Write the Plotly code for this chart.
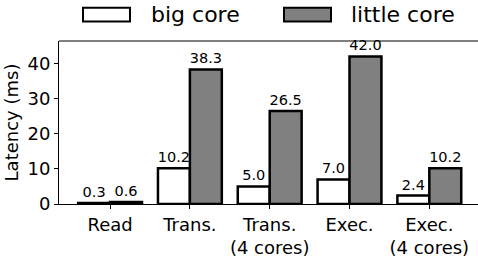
import plotly.graph_objects as go

categories = ["Read", "Trans.", "Trans.<br>(4 cores)", "Exec.", "Exec.<br>(4 cores)"]
series_names = ["big core", "little core"]
big_core = [0.3, 10.2, 5.0, 7.0, 2.4]
little_core = [0.6, 38.3, 26.5, 42.0, 10.2]
colors = ["#ffffff", "#808080"]
y_ticks = [0, 10, 20, 30, 40]

FONT = "DejaVu Sans"
W, H = 478, 258
L, R, T, B = 59, 0, 41, 50
PW, PH = W - L - R, H - T - B

def px_x(x):
    return (x - L) / PW

def px_y(y):
    return (H - B - y) / PH

fig = go.Figure()
for name, vals, col in zip(series_names, [big_core, little_core], colors):
    fig.add_trace(go.Bar(
        x=list(range(len(categories))), y=vals, name=name,
        marker=dict(color=col, line=dict(color="black", width=2.5)),
        texttemplate="%{y:.1f}", textposition="outside",
        textfont=dict(family=FONT, size=14.5, color="black"),
        constraintext="none", cliponaxis=False, showlegend=False,
        hoverinfo="skip",
    ))

shapes = [
    dict(type="line", xref="paper", yref="paper", x0=0, x1=1, y0=1, y1=1,
         line=dict(color="black", width=1)),
]
annotations = []
legend_boxes = [(83, 130, 149), (284, 331, 349)]
for (bx0, bx1, tx), name, col in zip(legend_boxes, series_names, colors):
    shapes.append(dict(type="rect", xref="paper", yref="paper",
                       x0=px_x(bx0), x1=px_x(bx1), y0=px_y(21), y1=px_y(7),
                       fillcolor=col, line=dict(color="black", width=2)))
    annotations.append(dict(xref="paper", yref="paper", x=px_x(tx), y=px_y(14),
                            xanchor="left", yanchor="middle", text=name, showarrow=False,
                            font=dict(family=FONT, size=22, color="black")))

fig.update_layout(
    width=W, height=H, margin=dict(l=L, r=R, t=T, b=B),
    paper_bgcolor="white", plot_bgcolor="white",
    barmode="group", bargap=0.2, bargroupgap=0,
    font=dict(family=FONT, color="black"),
    shapes=shapes, annotations=annotations,
    xaxis=dict(range=[-0.64, 4.61], tickmode="array", tickvals=list(range(len(categories))),
               ticktext=categories, showline=True, linecolor="black", linewidth=1,
               ticks="outside", ticklen=4, tickcolor="black", showgrid=False, zeroline=False,
               tickfont=dict(family=FONT, size=18, color="black")),
    yaxis=dict(range=[0, 46.4], tickvals=y_ticks, showline=True, linecolor="black", linewidth=1,
               ticks="outside", ticklen=4, tickcolor="black", showgrid=False, zeroline=False,
               tickfont=dict(family=FONT, size=18, color="black"),
               title=dict(text="Latency (ms)", font=dict(family=FONT, size=18, color="black"), standoff=4)),
)

fig.write_html("out.html", config={"displayModeBar": False},
               post_script="document.body.style.margin='0';document.body.style.overflow='hidden';")
